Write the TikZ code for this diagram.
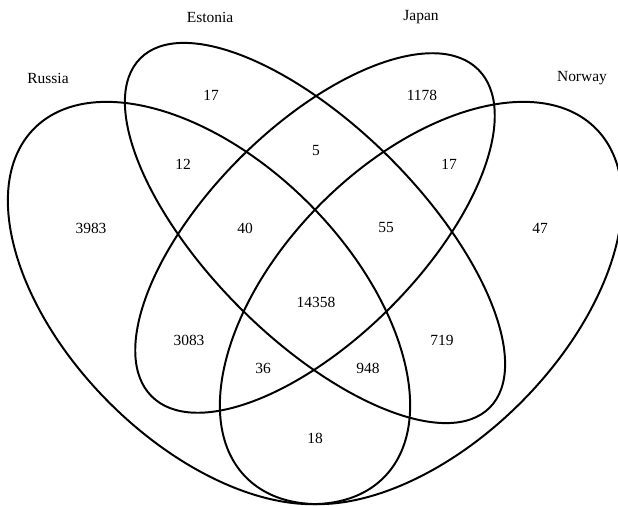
\documentclass[tikz,border=0pt]{standalone}
\usepackage{fontspec}
\setmainfont{Liberation Serif}

\begin{document}
\begin{tikzpicture}[x=0.025cm, y=0.025cm, line width=1.4pt]
    % 楕円のパラメータ (半径は px 単位)
    \def\Ao{247} \def\Bo{141}   % 外側: Russia, Norway
    \def\Ae{247} \def\Aj{231}   % 内側: Estonia, Japan の長半径
    \def\Bi{106}                % 内側の短半径

    \tikzset{
        venncount/.style={font=\fontsize{11}{13}\selectfont, inner sep=0pt},
        vennlabel/.style={font=\fontsize{11}{13}\selectfont, inner sep=0pt}
    }

    \useasboundingbox (0,0) rectangle (618,506);

    % -------------------------------------------------------------
    % 楕円の中心
    % -------------------------------------------------------------
    \coordinate (Rc) at (209,203);
    \coordinate (Nc) at (421,203);
    \coordinate (Ec) at (315,273);
    \coordinate (Jc) at (315,273);

    % -------------------------------------------------------------
    % 4つの楕円
    % -------------------------------------------------------------
    \draw[rotate around={135:(Rc)}] (Rc) ellipse ({\Ao} and {\Bo}); % Russia
    \draw[rotate around={45:(Nc)}]  (Nc) ellipse ({\Ao} and {\Bo}); % Norway
    \draw[rotate around={135:(Ec)}] (Ec) ellipse ({\Ae} and {\Bi}); % Estonia
    \draw[rotate around={45:(Jc)}]  (Jc) ellipse ({\Aj} and {\Bi}); % Japan

    % 集合の名前
    \node[vennlabel] (russia)  at (48,428)  {Russia};
    \node[vennlabel] (estonia) at (210,489) {Estonia};
    \node[vennlabel] (japan)   at (421,489) {Japan};
    \node[vennlabel] (norway)  at (582,428) {Norway};

    % -------------------------------------------------------------
    % 各領域の個数
    % -------------------------------------------------------------
    \node[venncount] (e)    at (211,411) {17};
    \node[venncount] (j)    at (422,411) {1178};
    \node[venncount] (re)   at (183,342) {12};
    \node[venncount] (ej)   at (316,355) {5};
    \node[venncount] (jn)   at (449,342) {17};
    \node[venncount] (r)    at (91,278)  {3983};
    \node[venncount] (rej)  at (245,278) {40};
    \node[venncount] (ejn)  at (386,278) {55};
    \node[venncount] (n)    at (540,278) {47};
    \node[venncount] (rejn) at (316,204) {14358};
    \node[venncount] (rj)   at (189,166) {3083};
    \node[venncount] (en)   at (442,166) {719};
    \node[venncount] (rjn)  at (263,138) {36};
    \node[venncount] (ren)  at (368,138) {948};
    \node[venncount] (rn)   at (315,68)  {18};

\end{tikzpicture}
\end{document}
